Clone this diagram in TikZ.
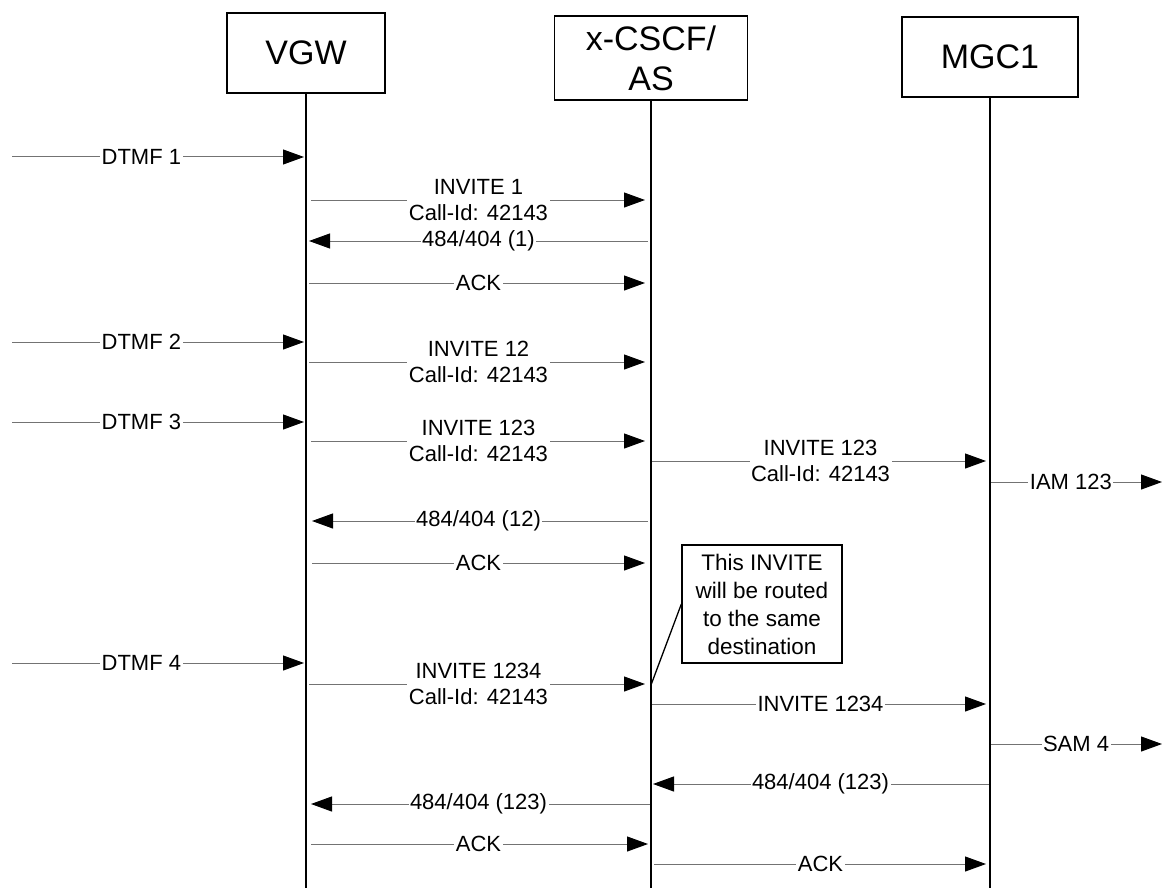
\documentclass[tikz,border=0pt]{standalone}
\usepackage{fontspec}
\setmainfont{Liberation Sans}
\usetikzlibrary{arrows.meta,positioning}

\begin{document}
\begin{tikzpicture}[x=1pt,y=-1pt,
  ent/.style={draw,line width=1.3pt,minimum width=158pt,minimum height=80pt,font=\fontsize{34}{38}\selectfont,align=center,inner sep=2pt},
  life/.style={line width=1.3pt},
  msg/.style={draw=black!55,line width=1pt,-{Triangle[length=21pt,width=15pt,color=black]}},
  lab/.style={fill=white,inner sep=1.5pt,font=\fontsize{22}{26}\selectfont,align=center},
  note/.style={draw,line width=1.3pt,minimum width=160pt,minimum height=118pt,font=\fontsize{22.5}{28}\selectfont,align=center}]
\useasboundingbox (0,0) rectangle (1162,888);
% participants
\node[ent] (vgw) at (306,53) {VGW};
\node[ent,minimum width=193pt,minimum height=84pt] (cscf) at (651,58) {x-CSCF/\\[2pt]AS};
\node[ent,minimum width=176pt] (mgc) at (990,57) {MGC1};
\coordinate (vgwend) at (306,888);
\coordinate (cscfend) at (651,888);
\coordinate (mgcend) at (990,888);
\draw[life] (vgw.south) -- (vgwend);
\draw[life] (cscf.south) -- (cscfend);
\draw[life] (mgc.south) -- (mgcend);
% message levels
\coordinate (d1) at (12,157);
\coordinate (d2) at (12,342);
\coordinate (d3) at (12,422);
\coordinate (d4) at (12,663);
\coordinate (o1) at (1162,482);
\coordinate (o2) at (1162,744);
% first digit
\draw[msg,shorten >=2pt] (d1) -- node[lab,pos=0.44]{DTMF 1} (vgw |- d1);
\draw[msg,shorten <=5pt,shorten >=6pt] (vgw |- 0,200) -- node[lab]{INVITE 1\\Call-Id: 42143} (cscf |- 0,200);
\draw[msg,shorten <=3pt,shorten >=3pt] (cscf |- 0,241) -- node[lab]{484/404 (1)} (vgw |- 0,241);
\draw[msg,shorten <=3pt,shorten >=6pt] (vgw |- 0,283) -- node[lab]{ACK} (cscf |- 0,283);
% second digit
\draw[msg,shorten >=2pt] (d2) -- node[lab,pos=0.44]{DTMF 2} (vgw |- d2);
\draw[msg,shorten <=3pt,shorten >=6pt] (vgw |- 0,362) -- node[lab]{INVITE 12\\Call-Id: 42143} (cscf |- 0,362);
% third digit
\draw[msg,shorten >=2pt] (d3) -- node[lab,pos=0.44]{DTMF 3} (vgw |- d3);
\draw[msg,shorten <=5pt,shorten >=6pt] (vgw |- 0,441) -- node[lab]{INVITE 123\\Call-Id: 42143} (cscf |- 0,441);
\draw[msg,shorten <=1pt,shorten >=4pt] (cscf |- 0,461) -- node[lab]{INVITE 123\\Call-Id: 42143} (mgc |- 0,461);
\draw[msg,shorten <=1pt] (mgc |- o1) -- node[lab,pos=0.47]{IAM 123} (o1);
\draw[msg,shorten <=3pt,shorten >=6pt] (cscf |- 0,521) -- node[lab]{484/404 (12)} (vgw |- 0,521);
\draw[msg,shorten <=6pt,shorten >=6pt] (vgw |- 0,563) -- node[lab]{ACK} (cscf |- 0,563);
% fourth digit
\node[note] (rem) at (762,604) {This INVITE\\will be routed\\to the same\\destination};
\draw[msg,shorten >=2pt] (d4) -- node[lab,pos=0.44]{DTMF 4} (vgw |- d4);
\draw[msg,shorten <=3pt,shorten >=6pt] (vgw |- 0,684) -- node[lab]{INVITE 1234\\Call-Id: 42143} (cscf |- 0,684);
\draw[line width=1.3pt] (rem.west) -- (cscf |- 0,685);
\draw[msg,shorten <=1pt,shorten >=4pt] (cscf |- 0,704) -- node[lab]{INVITE 1234} (mgc |- 0,704);
\draw[msg,shorten <=1pt] (mgc |- o2) -- node[lab,pos=0.5]{SAM 4} (o2);
\draw[msg,shorten <=1pt,shorten >=2pt] (mgc |- 0,784) -- node[lab]{484/404 (123)} (cscf |- 0,784);
\draw[msg,shorten <=1pt,shorten >=5pt] (cscf |- 0,804) -- node[lab]{484/404 (123)} (vgw |- 0,804);
\draw[msg,shorten <=5pt,shorten >=3pt] (vgw |- 0,844) -- node[lab]{ACK} (cscf |- 0,844);
\draw[msg,shorten <=3pt,shorten >=4pt] (cscf |- 0,864) -- node[lab]{ACK} (mgc |- 0,864);
\end{tikzpicture}
\end{document}
